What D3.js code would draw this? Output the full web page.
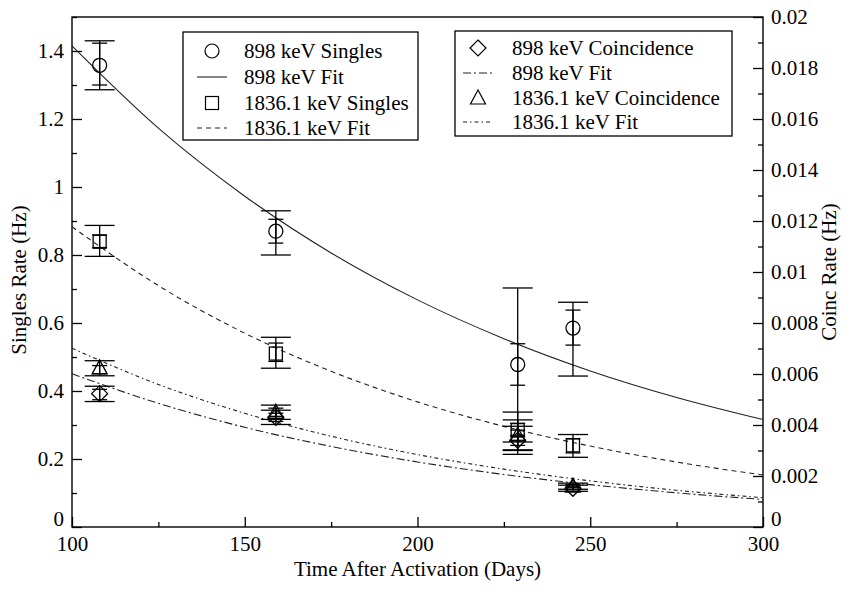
<!DOCTYPE html>
<html>
<head>
<meta charset="utf-8">
<script src="https://cdn.jsdelivr.net/npm/d3@7"></script>
<style>
  body { margin: 0; background: #fff; }
  text { font-family: "Liberation Serif", "DejaVu Serif", serif; fill: #000; }
</style>
</head>
<body>
<svg id="chart"></svg>
<script>
// measurement days
const days = [108, 159, 229, 245];

// 898 keV singles (Hz) with outer / inner error limits
const s898 = [1.358, 0.87, 0.478, 0.585];
const s898Lo = [1.286, 0.80, 0.25, 0.444];
const s898Hi = [1.43, 0.93, 0.703, 0.661];
const s898InLo = [1.30, 0.835, 0.417, 0.535];
const s898InHi = [1.423, 0.905, 0.539, 0.638];

// 1836.1 keV singles (Hz)
const s1836 = [0.839, 0.51, 0.285, 0.24];
const s1836Lo = [0.796, 0.467, 0.227, 0.205];
const s1836Hi = [0.887, 0.558, 0.338, 0.272];
const s1836InLo = [0.822, 0.487, 0.265, 0.218];
const s1836InHi = [0.859, 0.541, 0.305, 0.26];

// 898 keV coincidence (Hz, right axis)
const c898 = [0.00523, 0.0043, 0.0034, 0.00152];
const c898Lo = [0.00492, 0.00402, 0.00285, 0.0014];
const c898Hi = [0.00552, 0.00458, 0.00395, 0.00164];
const c898InLo = [0.00499, 0.00414, 0.0032, 0.00146];
const c898InHi = [0.0054, 0.00446, 0.0036, 0.00158];

// 1836.1 keV coincidence (Hz, right axis)
const c1836 = [0.00624, 0.0045, 0.0036, 0.0016];
const c1836Lo = [0.00593, 0.00422, 0.003, 0.00148];
const c1836Hi = [0.00652, 0.00478, 0.0042, 0.00172];
const c1836InLo = [0.00601, 0.00434, 0.0034, 0.00154];
const c1836InHi = [0.00633, 0.00466, 0.0038, 0.00166];

// fit curves
const fitDays = [100, 125, 150, 175, 200, 225, 250, 275, 300];
const fit898 = [1.415, 1.173, 0.973, 0.806, 0.668, 0.554, 0.459, 0.381, 0.316];
const fit1836 = [0.883, 0.71, 0.57, 0.458, 0.368, 0.296, 0.238, 0.191, 0.153];
const fitC898 = [0.00601, 0.00485, 0.00391, 0.00316, 0.00255, 0.00206, 0.00166, 0.00134, 0.00108];
const fitC1836 = [0.00701, 0.00559, 0.00446, 0.00356, 0.00284, 0.00227, 0.00181, 0.00144, 0.00115];

// ticks
const xTicks = [100, 150, 200, 250, 300];
const xMinor = [125, 175, 225, 275];
const yTicks = [0, 0.2, 0.4, 0.6, 0.8, 1, 1.2, 1.4];
const yMinor = [0.1, 0.3, 0.5, 0.7, 0.9, 1.1, 1.3, 1.5];
const cTicks = [0, 0.002, 0.004, 0.006, 0.008, 0.01, 0.012, 0.014, 0.016, 0.018, 0.02];
const cMinor = [0.001, 0.003, 0.005, 0.007, 0.009, 0.011, 0.013, 0.015, 0.017, 0.019];

const width = 846, height = 607;
const mLeft = 72, mRight = 763, mTop = 17, mBottom = 527;

const svg = d3.select("#chart").attr("width", width).attr("height", height);

const x = d3.scaleLinear().domain([100, 300]).range([mLeft, mRight]);
const yS = d3.scaleLinear().domain([0, 1.5]).range([mBottom, mTop]);
const yC = d3.scaleLinear().domain([0, 0.02]).range([mBottom, mTop]);

const fmt = d => String(+d.toFixed(4));
const fontSize = "21px";

function styleAxis(g) {
    g.select(".domain").remove();
    g.selectAll(".tick line").attr("stroke", "#000").attr("stroke-width", 1.3);
    g.selectAll(".tick text").style("font-size", fontSize)
        .style("font-family", "'Liberation Serif', serif").attr("fill", "#000");
}

// bottom axis
svg.append("g").attr("transform", `translate(0,${mBottom})`)
    .call(d3.axisBottom(x).tickValues(xTicks).tickSize(-10).tickPadding(9).tickFormat(fmt))
    .call(styleAxis);
svg.append("g").attr("transform", `translate(0,${mBottom})`)
    .call(d3.axisBottom(x).tickValues(xMinor).tickSize(-5).tickFormat(""))
    .call(styleAxis);

// left axis
svg.append("g").attr("transform", `translate(${mLeft},0)`)
    .call(d3.axisLeft(yS).tickValues(yTicks).tickSize(-10).tickPadding(8).tickFormat(fmt))
    .call(styleAxis)
    .call(g => g.selectAll(".tick text").filter(d => d === 0).attr("dy", "-0.05em"));
svg.append("g").attr("transform", `translate(${mLeft},0)`)
    .call(d3.axisLeft(yS).tickValues(yMinor).tickSize(-5).tickFormat(""))
    .call(styleAxis);

// right axis
svg.append("g").attr("transform", `translate(${mRight},0)`)
    .call(d3.axisRight(yC).tickValues(cTicks).tickSize(-10).tickPadding(8).tickFormat(fmt))
    .call(styleAxis)
    .call(g => g.selectAll(".tick text").filter(d => d === 0).attr("dy", "-0.05em"));
svg.append("g").attr("transform", `translate(${mRight},0)`)
    .call(d3.axisRight(yC).tickValues(cMinor).tickSize(-5).tickFormat(""))
    .call(styleAxis);

// frame
svg.append("rect")
    .attr("x", mLeft).attr("y", mTop)
    .attr("width", mRight - mLeft).attr("height", mBottom - mTop)
    .attr("fill", "none").attr("stroke", "#000").attr("stroke-width", 1.4);

// axis titles
svg.append("text")
    .attr("x", (mLeft + mRight) / 2).attr("y", 576)
    .attr("text-anchor", "middle").style("font-size", fontSize)
    .text("Time After Activation (Days)");
svg.append("text")
    .attr("transform", "translate(26,280) rotate(-90)")
    .attr("text-anchor", "middle").style("font-size", fontSize)
    .text("Singles Rate (Hz)");
svg.append("text")
    .attr("transform", "translate(836,272) rotate(-90)")
    .attr("text-anchor", "middle").style("font-size", fontSize)
    .text("Coinc Rate (Hz)");

// fit lines
const plot = svg.append("g");
const fits = [
    { vals: fit898, y: yS, dash: null },
    { vals: fit1836, y: yS, dash: "5,4" },
    { vals: fitC898, y: yC, dash: "8,3,2,3" },
    { vals: fitC1836, y: yC, dash: "4,3,1.5,3" }
];
fits.forEach(f => {
    const line = d3.line()
        .x((d, i) => x(fitDays[i]))
        .y(d => f.y(d))
        .curve(d3.curveMonotoneX);
    plot.append("path")
        .attr("d", line(f.vals))
        .attr("fill", "none")
        .attr("stroke", "#222")
        .attr("stroke-width", 1.1)
        .attr("stroke-dasharray", f.dash);
});

// marker shapes
function marker(g, shape, cx, cy) {
    if (shape === "circle") {
        g.append("circle").attr("cx", cx).attr("cy", cy).attr("r", 7);
    } else if (shape === "square") {
        g.append("rect").attr("x", cx - 6.5).attr("y", cy - 6.5).attr("width", 13).attr("height", 13);
    } else if (shape === "diamond") {
        g.append("path").attr("d", `M${cx},${cy - 8}L${cx + 8},${cy}L${cx},${cy + 8}L${cx - 8},${cy}Z`);
    } else {
        g.append("path").attr("d", `M${cx},${cy - 8}L${cx + 7.5},${cy + 6}L${cx - 7.5},${cy + 6}Z`);
    }
}

function errorBar(g, cx, lo, hi, half) {
    g.append("line").attr("x1", cx).attr("x2", cx).attr("y1", lo).attr("y2", hi);
    [lo, hi].forEach(v => g.append("line")
        .attr("x1", cx - half).attr("x2", cx + half).attr("y1", v).attr("y2", v));
}

const series = [
    { vals: s898, lo: s898Lo, hi: s898Hi, inLo: s898InLo, inHi: s898InHi, y: yS, shape: "circle" },
    { vals: s1836, lo: s1836Lo, hi: s1836Hi, inLo: s1836InLo, inHi: s1836InHi, y: yS, shape: "square" },
    { vals: c898, lo: c898Lo, hi: c898Hi, inLo: c898InLo, inHi: c898InHi, y: yC, shape: "diamond" },
    { vals: c1836, lo: c1836Lo, hi: c1836Hi, inLo: c1836InLo, inHi: c1836InHi, y: yC, shape: "triangle" }
];

series.forEach(s => {
    const g = plot.append("g")
        .attr("fill", "none").attr("stroke", "#000").attr("stroke-width", 1.3);
    s.vals.forEach((v, i) => {
        const cx = x(days[i]);
        errorBar(g, cx, s.y(s.lo[i]), s.y(s.hi[i]), 15);
        errorBar(g, cx, s.y(s.inLo[i]), s.y(s.inHi[i]), 7.5);
        marker(g, s.shape, cx, s.y(v));
    });
});

// legends
function legend(box, rows, symX, textX, rowY) {
    svg.append("rect")
        .attr("x", box[0]).attr("y", box[1]).attr("width", box[2]).attr("height", box[3])
        .attr("fill", "#fff").attr("stroke", "#000").attr("stroke-width", 1.3);
    rows.forEach((r, i) => {
        const cy = rowY[i];
        const g = svg.append("g").attr("fill", "none").attr("stroke", "#000").attr("stroke-width", 1.2);
        if (r.shape) {
            marker(g, r.shape, symX, cy);
        } else {
            g.append("line").attr("x1", symX - 15).attr("x2", symX + 15)
                .attr("y1", cy).attr("y2", cy)
                .attr("stroke", "#222").attr("stroke-width", 1.1)
                .attr("stroke-dasharray", r.dash);
        }
        svg.append("text").attr("x", textX).attr("y", cy)
            .attr("dy", "0.35em").style("font-size", fontSize).text(r.label);
    });
}

legend([183, 32, 235, 108], [
    { shape: "circle", label: "898 keV Singles" },
    { dash: null, label: "898 keV Fit" },
    { shape: "square", label: "1836.1 keV Singles" },
    { dash: "5,4", label: "1836.1 keV Fit" }
], 212, 244, [51, 77, 103, 128]);

legend([455, 31, 277, 105], [
    { shape: "diamond", label: "898 keV Coincidence" },
    { dash: "8,3,2,3", label: "898 keV Fit" },
    { shape: "triangle", label: "1836.1 keV Coincidence" },
    { dash: "4,3,1.5,3", label: "1836.1 keV Fit" }
], 478, 512, [48, 73, 98, 122]);
</script>
</body>
</html>
